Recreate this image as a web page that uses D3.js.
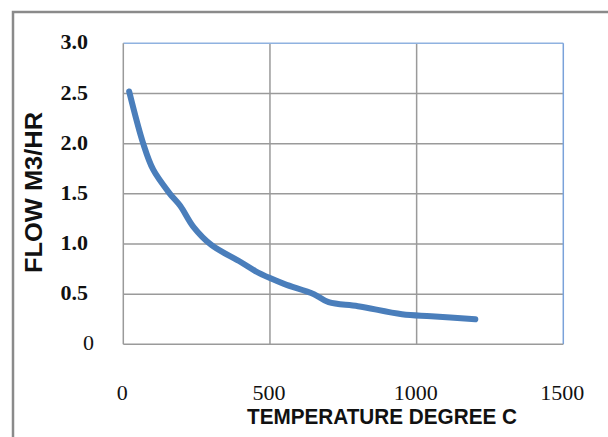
<!DOCTYPE html>
<html><head><meta charset="utf-8">
<script src="https://cdn.jsdelivr.net/npm/d3@7"></script>
<style>html,body{margin:0;padding:0;background:#fff;}svg{display:block;}</style>
</head><body>
<svg id="c" width="608" height="437"></svg>
<script>
const temps = [20, 68, 102, 159, 194, 239, 300, 400, 450, 500, 550, 650, 700, 800, 950, 1050, 1200];
const flows = [2.52, 2.0, 1.74, 1.50, 1.38, 1.17, 0.99, 0.82, 0.73, 0.66, 0.60, 0.50, 0.42, 0.38, 0.30, 0.28, 0.25];
const xTicks = [0, 500, 1000, 1500];
const yTicks = [0, 0.5, 1.0, 1.5, 2.0, 2.5, 3.0];
const xTitle = "TEMPERATURE DEGREE C";
const yTitle = "FLOW M3/HR";

const svg = d3.select("#c");
const L = 123.3, R = 563.3, T = 43.3, B = 344.3;
const x = d3.scaleLinear().domain([0, 1500]).range([L, R]);
const y = d3.scaleLinear().domain([0, 3]).range([B, T]);

// outer chart border
svg.append("rect").attr("x", 13).attr("y", 12).attr("width", 640).attr("height", 460)
  .attr("fill", "#fff").attr("stroke", "#8a8a8a").attr("stroke-width", 2.5);

// gridlines
svg.append("g").selectAll("line").data(yTicks.filter(d => d > 0 && d < 3)).join("line")
  .attr("x1", L).attr("x2", R).attr("y1", d => y(d)).attr("y2", d => y(d))
  .attr("stroke", "#9a9a9a").attr("stroke-width", 1.5);
svg.append("g").selectAll("line").data(xTicks.filter(d => d > 0 && d < 1500)).join("line")
  .attr("y1", T).attr("y2", B).attr("x1", d => x(d)).attr("x2", d => x(d))
  .attr("stroke", "#9a9a9a").attr("stroke-width", 1.5);

// plot border: top/right blue, left/bottom gray
svg.append("line").attr("x1", L).attr("x2", R).attr("y1", T).attr("y2", T).attr("stroke", "#8fb2e0").attr("stroke-width", 1.5);
svg.append("line").attr("x1", R).attr("x2", R).attr("y1", T).attr("y2", B).attr("stroke", "#7aa2da").attr("stroke-width", 1.5);
svg.append("line").attr("x1", L).attr("x2", L).attr("y1", T).attr("y2", B).attr("stroke", "#9a9a9a").attr("stroke-width", 1.5);
svg.append("line").attr("x1", L).attr("x2", R).attr("y1", B).attr("y2", B).attr("stroke", "#9a9a9a").attr("stroke-width", 1.5);

// y tick labels
svg.append("g").selectAll("text").data(yTicks).join("text")
  .attr("x", d => d === 0 ? 94 : 88)
  .attr("y", d => y(d) + 1)
  .attr("text-anchor", "end").attr("dominant-baseline", "middle")
  .attr("font-family", "Liberation Serif, DejaVu Serif, serif")
  .attr("font-weight", d => d === 0 ? "normal" : "bold")
  .attr("font-size", 22)
  .attr("fill", "#111")
  .text(d => d === 0 ? "0" : d.toFixed(1));

// x tick labels
svg.append("g").selectAll("text").data(xTicks).join("text")
  .attr("x", d => x(d) - 1).attr("y", 400)
  .attr("text-anchor", "middle")
  .attr("font-family", "Liberation Serif, DejaVu Serif, serif")
  .attr("font-size", 22).attr("fill", "#111")
  .text(d => String(d));

// axis titles
svg.append("text").attr("x", 247).attr("y", 424)
  .attr("font-family", "Liberation Sans, Arial, sans-serif").attr("font-weight", "bold")
  .attr("font-size", 22).attr("textLength", 270).attr("lengthAdjust", "spacingAndGlyphs")
  .attr("fill", "#111").text(xTitle);
svg.append("text").attr("transform", "translate(42,273) rotate(-90)")
  .attr("font-family", "Liberation Sans, Arial, sans-serif").attr("font-weight", "bold")
  .attr("font-size", 24).attr("textLength", 161).attr("lengthAdjust", "spacingAndGlyphs")
  .attr("fill", "#111").text(yTitle);

// series line
const line = d3.line().x((d, i) => x(temps[i])).y(d => y(d)).curve(d3.curveCatmullRom.alpha(0.5));
svg.append("path").datum(flows).attr("d", line)
  .attr("fill", "none").attr("stroke", "#4a7ebb").attr("stroke-width", 6)
  .attr("stroke-linecap", "round").attr("stroke-linejoin", "round");
</script>
</body></html>
